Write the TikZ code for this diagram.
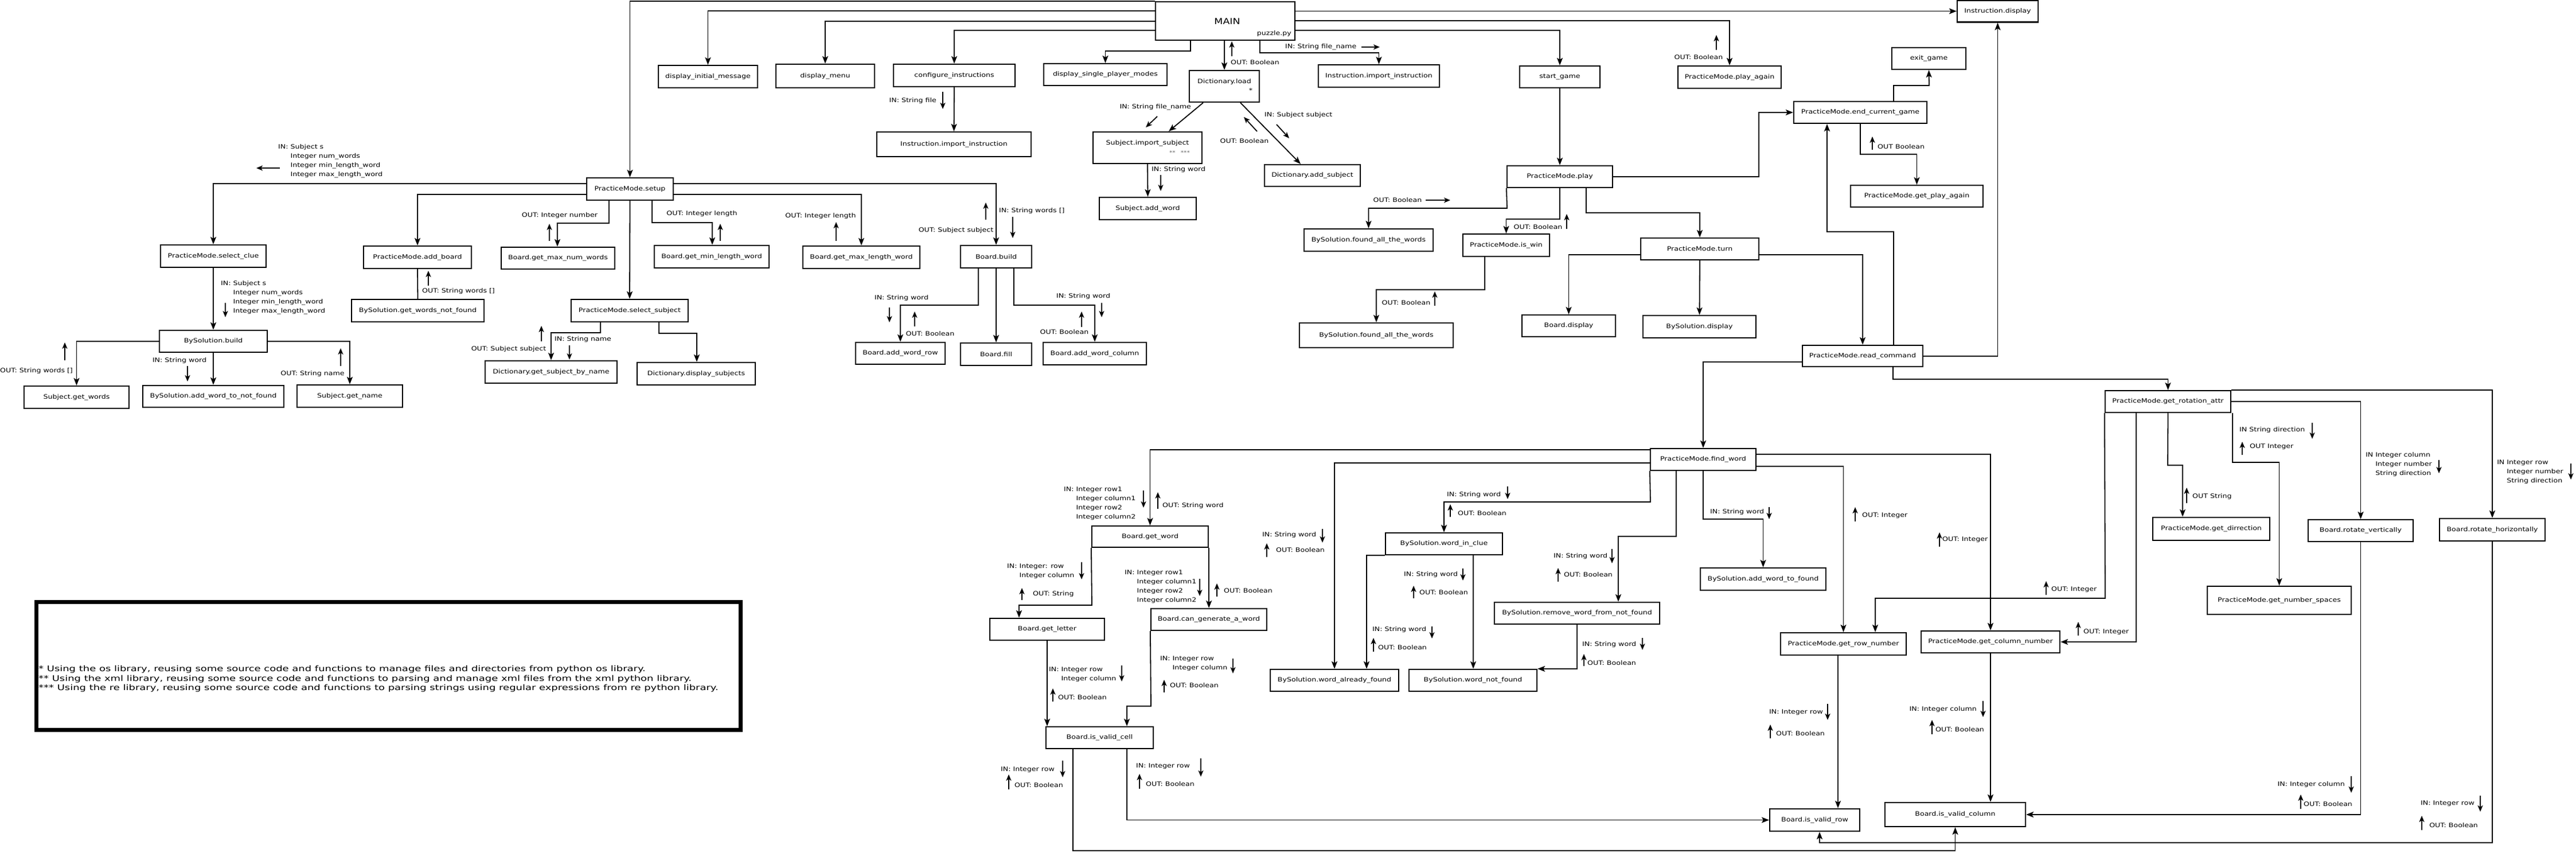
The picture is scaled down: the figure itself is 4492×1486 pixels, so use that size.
\documentclass[tikz,border=0pt]{standalone}
\usepackage{fontspec}
\setmainfont{DejaVu Sans}[FakeStretch=1.2]
\newfontfamily\notefont{DejaVu Sans}[FakeStretch=1.33]
\usetikzlibrary{arrows.meta}

\begin{document}
\begin{tikzpicture}[x=1pt, y=-1pt,
  box/.style={draw, line width=2.2pt, inner sep=0pt, font=\fontsize{10.5}{13}\selectfont},
  sz/.style 2 args={minimum width=#1, minimum height=#2},
  conn/.style={line width=1.8pt, -{Stealth[length=13pt, width=10pt, inset=3pt]}},
  plain/.style={line width=1.8pt},
  tag/.style={inner sep=0pt, align=left, font=\fontsize{10.5}{16}\selectfont},
  sarr/.style={line width=1.8pt, -{Stealth[length=11pt, width=9pt, inset=3pt]}}]

\useasboundingbox (0,0) rectangle (4492,1486);
\fill[white] (0,0) rectangle (4492,1486);

% Top row
\node[box, sz={243}{67}] (main) at (2136.5,36.5) {};
\node[font=\fontsize{14.5}{17}\selectfont] (maintext) at (2140,37) {MAIN};
\node[anchor=east, inner sep=0pt, font=\fontsize{10.5}{13}\selectfont] (mainfile) at (2252,59) {puzzle.py};
\node[box, sz={141}{38}] (instrdisp) at (3483.5,19.5) {Instruction.display};
\node[box, sz={173}{39}] (dispinit) at (1234.5,133.5) {display\_initial\_message};
\node[box, sz={172}{41}] (dispmenu) at (1439,132.5) {display\_menu};
\node[box, sz={212}{39}] (configinstr) at (1664,131.5) {configure\_instructions};
\node[box, sz={269}{43}] (importinstrA) at (1663.5,251.5) {Instruction.import\_instruction};
\node[box, sz={215}{38}] (dispsingle) at (1927.5,130) {display\_single\_player\_modes};
\node[box, sz={122}{55}] (dictload) at (2135,150.5) {};
\node[inner sep=0pt, font=\fontsize{10.5}{13}\selectfont] (dicttext) at (2135,143) {Dictionary.load};
\node[inner sep=0pt, font=\fontsize{10.5}{13}\selectfont] (dictstar) at (2181,158) {*};
\node[box, sz={211}{39}] (importinstrB) at (2404.5,132.5) {Instruction.import\_instruction};
\node[box, sz={140}{38}] (startgame) at (2720,134) {start\_game};
\node[box, sz={180}{39}] (playagain) at (3016,134.5) {PracticeMode.play\_again};
\node[box, sz={129}{38}] (exitgame) at (3363.5,102) {exit\_game};
\node[box, sz={232}{38}] (endgame) at (3244,196) {PracticeMode.end\_current\_game};
\node[box, sz={231}{38}] (getplayagain) at (3342.5,342) {PracticeMode.get\_play\_again};
\node[box, sz={184}{38}] (play) at (2720,308) {PracticeMode.play};
\node[box, sz={190}{55}] (subjimport) at (2001,257.5) {};
\node[inner sep=0pt, font=\fontsize{10.5}{13}\selectfont] (subjtext) at (2001,250) {Subject.import\_subject};
\node[inner sep=0pt, text=black!60, font=\fontsize{9}{11}\selectfont] (subjstars) at (2057,266) {**\quad ***};
\node[box, sz={169}{39}] (subjaddword) at (2001.5,363.5) {Subject.add\_word};
\node[box, sz={167}{38}] (dictaddsubj) at (2288.5,306) {Dictionary.add\_subject};

% Setup branch
\node[box, sz={151}{39}] (setup) at (1098.5,329.5) {PracticeMode.setup};
\node[box, sz={184}{39}] (selectclue) at (372,446.5) {PracticeMode.select\_clue};
\node[box, sz={188}{39}] (addboard) at (728,448.5) {PracticeMode.add\_board};
\node[box, sz={231}{39}] (wordsnotfound) at (728.5,541.5) {BySolution.get\_words\_not\_found};
\node[box, sz={188}{38}] (bsbuild) at (372,595) {BySolution.build};
\node[box, sz={183}{39}] (getwords) at (133.5,692.5) {Subject.get\_words};
\node[box, sz={246}{38}] (addnotfound) at (372,691) {BySolution.add\_word\_to\_not\_found};
\node[box, sz={184}{39}] (getname) at (610,690.5) {Subject.get\_name};
\node[box, sz={198}{38}] (maxnum) at (973,450) {Board.get\_max\_num\_words};
\node[box, sz={200}{39}] (minlen) at (1241,447.5) {Board.get\_min\_length\_word};
\node[box, sz={204}{39}] (maxlen) at (1502,448.5) {Board.get\_max\_length\_word};
\node[box, sz={124}{39}] (bbuild) at (1737,447.5) {Board.build};
\node[box, sz={204}{39}] (selsubj) at (1098,541.5) {PracticeMode.select\_subject};
\node[box, sz={230}{39}] (subjbyname) at (961,648.5) {Dictionary.get\_subject\_by\_name};
\node[box, sz={206}{39}] (dispsubj) at (1214,651.5) {Dictionary.display\_subjects};
\node[box, sz={156}{38}] (addrow) at (1570,616) {Board.add\_word\_row};
\node[box, sz={124}{39}] (fill) at (1737,617.5) {Board.fill};
\node[box, sz={180}{39}] (addcol) at (1909,616.5) {Board.add\_word\_column};

% Play branch
\node[box, sz={225}{39}] (allfoundA) at (2386.5,418.5) {BySolution.found\_all\_the\_words};
\node[box, sz={151}{39}] (iswin) at (2626.5,427.5) {PracticeMode.is\_win};
\node[box, sz={268}{43}] (allfoundB) at (2400,584.5) {BySolution.found\_all\_the\_words};
\node[box, sz={206}{38}] (turn) at (2964,434) {PracticeMode.turn};
\node[box, sz={163}{38}] (bdisplay) at (2735.5,568) {Board.display};
\node[box, sz={197}{39}] (bsdisplay) at (2963.5,569.5) {BySolution.display};
\node[box, sz={210}{37}] (readcmd) at (3248,620.5) {PracticeMode.read\_command};
\node[box, sz={184}{38}] (findword) at (2970,801) {PracticeMode.find\_word};
\node[box, sz={219}{38}] (rotattr) at (3780.5,700) {PracticeMode.get\_rotation\_attr};

% Find word branch
\node[box, sz={203}{37}] (getword) at (2005.5,935.5) {Board.get\_word};
\node[box, sz={200}{38}] (getletter) at (1826,1097) {Board.get\_letter};
\node[box, sz={202}{38}] (cangen) at (2108,1080) {Board.can\_generate\_a\_word};
\node[box, sz={187}{38}] (validcell) at (1917.5,1286) {Board.is\_valid\_cell};
\node[box, sz={204}{38}] (wordinclue) at (2518,948) {BySolution.word\_in\_clue};
\node[box, sz={224}{38}] (alreadyfound) at (2327,1186) {BySolution.word\_already\_found};
\node[box, sz={223}{38}] (notfound) at (2568.5,1186) {BySolution.word\_not\_found};
\node[box, sz={288}{38}] (removeword) at (2750,1069) {BySolution.remove\_word\_from\_not\_found};
\node[box, sz={219}{39}] (addfound) at (3074.5,1009.5) {BySolution.add\_word\_to\_found};
\node[box, sz={219}{39}] (rownum) at (3214.5,1122.5) {PracticeMode.get\_row\_number};
\node[box, sz={242}{38}] (colnum) at (3471,1119) {PracticeMode.get\_column\_number};
\node[box, sz={157}{39}] (validrow) at (3164.5,1429.5) {Board.is\_valid\_row};
\node[box, sz={245}{42}] (validcol) at (3409.5,1420) {Board.is\_valid\_column};
\node[box, sz={204}{40}] (direction) at (3856,922) {PracticeMode.get\_dirrection};
\node[box, sz={251}{49}] (numspaces) at (3974.5,1046.5) {PracticeMode.get\_number\_spaces};
\node[box, sz={183}{38}] (rotvert) at (4116.5,925) {Board.rotate\_vertically};
\node[box, sz={184}{39}] (rothoriz) at (4346,923.5) {Board.rotate\_horizontally};

% Notes
\node[draw, line width=7pt, inner sep=0pt, sz={1228}{223}] (notebox) at (677,1160.5) {};
\node[anchor=west, inner sep=0pt, align=left, font=\notefont\fontsize{13.5}{16.7}\selectfont] (notetext) at (67,1183.5)
  {* Using the os library, reusing some source code and functions to manage files and directories from python os library.\\
   ** Using the xml library, reusing some source code and functions to parsing and manage xml files from the xml python library.\\
   *** Using the re library, reusing some source code and functions to parsing strings using regular expressions from re python library.};

% Connectors from MAIN
\draw[conn] (main.north west) -| (setup.north);
\draw[conn] (main.west |- 0,19) -| (dispinit.north);
\draw[conn] (main.west |- 0,37) -| (dispmenu.north);
\draw[conn] (main.west |- 0,53) -| (configinstr.north);
\draw[conn] (main.east |- instrdisp.west) -- (instrdisp.west);
\draw[conn] (main.east |- 0,36) -| (playagain.north);
\draw[conn] (main.east |- 0,53) -| (startgame.north);
\draw[conn] (main.south -| 2076,0) -- (2076,89) -| (dispsingle.north);
\draw[conn] (main.south -| dictload.north) -- (dictload.north);
\draw[conn] (main.south -| 2197,0) -- (2197,92) -| (importinstrB.north);
\draw[conn] (configinstr.south) -- (importinstrA.north);
\draw[conn] (dictload.south -| 2098,0) -- (subjimport.north -| 2038,0);
\draw[conn] (dictload.south -| 2163,0) -- (dictaddsubj.north -| 2268,0);
\draw[conn] (subjimport.south) -- (subjaddword.north);

% Connectors from setup
\draw[conn] (setup.west |- 0,320) -| (selectclue.north);
\draw[conn] (setup.west |- 0,339) -| (addboard.north);
\draw[conn] (setup.east |- 0,320) -| (bbuild.north);
\draw[conn] (setup.east |- 0,339) -| (maxlen.north);
\draw[conn] (setup.south -| 1062,0) |- (972,389) -- (maxnum.north -| 972,0);
\draw[conn] (setup.south) -- (selsubj.north);
\draw[conn] (setup.south -| 1137,0) |- (1242,388) -- (minlen.north -| 1242,0);
\draw[plain] (addboard.south) -- (wordsnotfound.north);
\draw[conn] (selectclue.south) -- (bsbuild.north);
\draw[conn] (bsbuild.west) -| (getwords.north);
\draw[conn] (bsbuild.south) -- (addnotfound.north);
\draw[conn] (bsbuild.east) -| (getname.north);
\draw[conn] (selsubj.south -| 1047,0) |- (961,580) -- (subjbyname.north);
\draw[conn] (selsubj.south -| 1149,0) |- (1215,581) -- (dispsubj.north -| 1215,0);
\draw[conn] (bbuild.south -| 1706,0) |- (1570,532) -- (addrow.north);
\draw[conn] (bbuild.south) -- (fill.north);
\draw[conn] (bbuild.south -| 1768,0) |- (1909,532) -- (addcol.north);

% Connectors of the game
\draw[conn] (startgame.south) -- (play.north);
\draw[conn] (play.south west) -- (2628,363) -| (allfoundA.north);
\draw[conn] (play.south) -- (2720,382) -| (iswin.north);
\draw[conn] (play.south -| 2766,0) |- (2964,371) -- (turn.north);
\draw[conn] (play.east) -- (3067,308) |- (endgame.west);
\draw[conn] (iswin.south -| 2589,0) |- (2400,505) -- (allfoundB.north);
\draw[conn] (turn.west |- 0,444) -| (bdisplay.north);
\draw[conn] (turn.south) -- (bsdisplay.north);
\draw[conn] (turn.east |- 0,444) -| (readcmd.north);
\draw[conn] (readcmd.east |- 0,621) -| (instrdisp.south);
\draw[conn] (readcmd.north -| 3302,0) |- (3186,404) -- (endgame.south -| 3186,0);
\draw[conn] (endgame.north -| 3302,0) |- (3364,149) -- (exitgame.south);
\draw[conn] (endgame.south) -- (3244,269) -| (getplayagain.north);
\draw[conn] (readcmd.west |- 0,631) -| (findword.north);
\draw[conn] (readcmd.south -| 3301,0) -- (3301,661) -| (rotattr.north);

% Connectors from find_word
\draw[conn] (findword.west |- 0,784) -| (getword.north);
\draw[conn] (findword.west |- 0,807) -| (alreadyfound.north);
\draw[conn] (findword.south west) -- (2878,875) -| (wordinclue.north);
\draw[conn] (findword.south -| 2923,0) |- (2822,935) -- (removeword.north -| 2822,0);
\draw[conn] (findword.south) -- (2970,905) -| (addfound.north);
\draw[conn] (findword.east |- 0,792) -| (colnum.north);
\draw[conn] (findword.east |- 0,813) -| (rownum.north);
\draw[conn] (getword.south west) -- (1904,1055) -| (getletter.north -| 1777,0);
\draw[conn] (getword.south east) -- (getword.south east |- cangen.north);
\draw[conn] (getletter.south) -- (validcell.north -| getletter.south);
\draw[conn] (cangen.south west) -- (2007,1231) -| (validcell.north -| 1965,0);
\draw[conn] (validcell.south -| 1965,0) |- (validrow.west);
\draw[conn] (validcell.south -| 1871,0) -- (1871,1483) -| (validcol.south);
\draw[conn] (wordinclue.south west) -| (alreadyfound.north -| 2383,0);
\draw[conn] (wordinclue.south -| 2569,0) -- (notfound.north -| 2569,0);
\draw[conn] (removeword.south) |- (notfound.north east);

% Connectors from get_rotation_attr
\draw[conn] (rotattr.north east) -| (rothoriz.north);
\draw[conn] (rotattr.east) -| (rotvert.north);
\draw[conn] (rotattr.south west) -- (3671,1043) -| (rownum.north -| 3270,0);
\draw[conn] (rotattr.south -| 3725,0) |- (colnum.east);
\draw[conn] (rotattr.south) -- (3780,811) -| (direction.north -| 3806,0);
\draw[conn] (rotattr.south east -| 3893,0) -- (3893,806) -| (numspaces.north);
\draw[conn] (rownum.south -| 3205,0) -- (validrow.north -| 3205,0);
\draw[conn] (colnum.south) -- (validcol.north -| colnum.south);
\draw[conn] (rotvert.south) |- (validcol.east);
\draw[conn] (rothoriz.south) -- (4346,1469) -| (validrow.south -| 3173,0);

% Labels: top
\node[tag, anchor=west] (tDictOut) at (2146,109) {OUT: Boolean};
\draw[sarr] (2148,98) -- (2148,72);
\node[tag, anchor=west] (tInstrIn) at (2241,82) {IN: String file\_name};
\draw[sarr] (2374,82) -- (2406,82);
\node[tag, anchor=east] (tFileIn) at (1633,176) {IN: String file};
\draw[sarr] (1644,160) -- (1644,190);
\node[tag, anchor=east] (tSubjIn) at (2077,187) {IN: String file\_name};
\draw[sarr] (2018,203) -- (1998,222);
\node[tag, anchor=west] (tAddIn) at (2205,201) {IN: Subject subject};
\draw[sarr] (2226,217) -- (2248,241);
\node[tag] (tAddOut) at (2170,246) {OUT: Boolean};
\draw[sarr] (2192,229) -- (2169,204);
\node[tag, anchor=west] (tWordIn) at (2008,296) {IN: String word};
\draw[sarr] (2024,305) -- (2024,333);
\node[tag] (tAgainOut) at (2962,100) {OUT: Boolean};
\draw[sarr] (2993,87) -- (2993,61);
\node[tag, anchor=west] (tEndOut) at (3274,256) {OUT Boolean};
\draw[sarr] (3265,261) -- (3265,238);
\node[tag] (tFoundOut) at (2437,349) {OUT: Boolean};
\draw[sarr] (2486,349) -- (2529,349);
\node[tag] (tWinOut) at (2682,396) {OUT: Boolean};
\draw[sarr] (2732,399) -- (2732,373);
\node[tag] (tAllOut) at (2452,528) {OUT: Boolean};
\draw[sarr] (2502,533) -- (2502,508);

% Labels: setup
\node[tag, anchor=west] (tClueIn) at (485,281) {IN: Subject s\\\phantom{IN:\ }Integer num\_words\\\phantom{IN:\ }Integer min\_length\_word\\\phantom{IN:\ }Integer max\_length\_word};
\draw[sarr] (488,293) -- (447,293);
\node[tag, anchor=west] (tBoardOut) at (736,508) {OUT: String words []};
\draw[sarr] (747,498) -- (747,472);
\node[tag, anchor=west] (tBuildIn) at (385,519) {IN: Subject s\\\phantom{IN:\ }Integer num\_words\\\phantom{IN:\ }Integer min\_length\_word\\\phantom{IN:\ }Integer max\_length\_word};
\draw[sarr] (393,528) -- (393,553);
\node[tag, anchor=west] (tWordsOut) at (0,647) {OUT: String words []};
\draw[sarr] (113,628) -- (113,597);
\node[tag] (tNotIn) at (313,629) {IN: String word};
\draw[sarr] (327,638) -- (327,665);
\node[tag] (tNameOut) at (545,652) {OUT: String name};
\draw[sarr] (594,638) -- (594,607);
\node[tag] (tNumOut) at (976,376) {OUT: Integer number};
\draw[sarr] (958,420) -- (958,390);
\node[tag] (tMinOut) at (1224,373) {OUT: Integer length};
\draw[sarr] (1256,420) -- (1256,390);
\node[tag] (tMaxOut) at (1431,377) {OUT: Integer length};
\draw[sarr] (1458,420) -- (1458,387);
\node[tag, anchor=west] (tBbuildIn) at (1742,368) {IN: String words []};
\draw[sarr] (1766,378) -- (1766,415);
\node[tag] (tBbuildOut) at (1667,402) {OUT: Subject subject};
\draw[sarr] (1719,383) -- (1719,353);
\node[tag, anchor=west] (tNameIn) at (967,592) {IN: String name};
\draw[sarr] (993,602) -- (993,627);
\node[tag] (tSubjOut) at (887,609) {OUT: Subject subject};
\draw[sarr] (944,595) -- (944,568);
\node[tag] (tRowIn) at (1572,520) {IN: String word};
\draw[sarr] (1551,536) -- (1551,562);
\node[tag] (tRowOut) at (1622,582) {OUT: Boolean};
\draw[sarr] (1595,569) -- (1595,543);
\node[tag] (tColIn) at (1889,517) {IN: String word};
\draw[sarr] (1921,528) -- (1921,553);
\node[tag] (tColOut) at (1856,579) {OUT: Boolean};
\draw[sarr] (1886,570) -- (1886,543);

% Labels: find word
\node[tag, anchor=west] (tGetIn) at (1855,878) {IN: Integer row1\\\phantom{IN:\ }Integer column1\\\phantom{IN:\ }Integer row2\\\phantom{IN:\ }Integer column2};
\draw[sarr] (1994,855) -- (1994,885);
\node[tag, anchor=west] (tGetOut) at (2027,882) {OUT: String word};
\draw[sarr] (2019,887) -- (2019,858);
\node[tag, anchor=west] (tLetterIn) at (1756,996) {IN: Integer: row\\\phantom{IN:\ }Integer column};
\draw[sarr] (1886,980) -- (1886,1010);
\node[tag, anchor=west] (tLetterOut) at (1801,1036) {OUT: String};
\draw[sarr] (1782,1046) -- (1782,1025);
\node[tag, anchor=west] (tGenIn) at (1961,1023) {IN: Integer row1\\\phantom{IN:\ }Integer column1\\\phantom{IN:\ }Integer row2\\\phantom{IN:\ }Integer column2};
\draw[sarr] (2092,1009) -- (2092,1039);
\node[tag, anchor=west] (tGenOut) at (2134,1030) {OUT: Boolean};
\draw[sarr] (2122,1040) -- (2122,1017);
\node[tag, anchor=west] (tCellInA) at (1829,1175.5) {IN: Integer row\\\phantom{IN:\ }Integer column};
\draw[sarr] (1956,1160) -- (1956,1188);
\node[tag, anchor=west] (tCellOutA) at (1845,1216) {OUT: Boolean};
\draw[sarr] (1836,1223) -- (1836,1200);
\node[tag, anchor=west] (tCellInB) at (2023,1157) {IN: Integer row\\\phantom{IN:\ }Integer column};
\draw[sarr] (2150,1148) -- (2150,1174);
\node[tag, anchor=west] (tCellOutB) at (2040,1195) {OUT: Boolean};
\draw[sarr] (2030,1207) -- (2030,1185);
\node[tag, anchor=west] (tValRowIn) at (1745,1342) {IN: Integer row};
\draw[sarr] (1853,1326) -- (1853,1355);
\node[tag, anchor=west] (tValRowOut) at (1769,1369) {OUT: Boolean};
\draw[sarr] (1759,1376) -- (1759,1350);
\node[tag, anchor=west] (tValColIn) at (1981,1336) {IN: Integer row};
\draw[sarr] (2094,1322) -- (2094,1354);
\node[tag, anchor=west] (tValColOut) at (1998,1367) {OUT: Boolean};
\draw[sarr] (1987,1375) -- (1987,1349);
\node[tag, anchor=west] (tAlreadyIn) at (2201,933) {IN: String word};
\draw[sarr] (2306,922) -- (2306,946);
\node[tag, anchor=west] (tAlreadyOut) at (2225,959) {OUT: Boolean};
\draw[sarr] (2209,971) -- (2209,947);
\node[tag, anchor=west] (tClueWIn) at (2523,863) {IN: String word};
\draw[sarr] (2629,848) -- (2629,870);
\node[tag, anchor=west] (tClueWOut) at (2542,895) {OUT: Boolean};
\draw[sarr] (2529,901) -- (2529,879);
\node[tag, anchor=west] (tNotFIn) at (2448,1002) {IN: String word};
\draw[sarr] (2551,991) -- (2551,1012);
\node[tag, anchor=west] (tNotFOut) at (2475,1033) {OUT: Boolean};
\draw[sarr] (2465,1043) -- (2465,1021);
\node[tag, anchor=west] (tAlrFIn) at (2393,1098) {IN: String word};
\draw[sarr] (2497,1092) -- (2497,1113);
\node[tag, anchor=west] (tAlrFOut) at (2403,1129) {OUT: Boolean};
\draw[sarr] (2395,1136) -- (2395,1112);
\node[tag, anchor=west] (tRemIn) at (2709,970) {IN: String word};
\draw[sarr] (2811,957) -- (2811,982);
\node[tag, anchor=west] (tRemOut) at (2727,1002) {OUT: Boolean};
\draw[sarr] (2717,1014) -- (2717,990);
\node[tag, anchor=west] (tAddFIn) at (2982,893) {IN: String word};
\draw[sarr] (3085,884) -- (3085,905);
\node[tag, anchor=west] (tRowNOut) at (3247,899) {OUT: Integer};
\draw[sarr] (3235,909) -- (3235,884);
\node[tag, anchor=west] (tColNOut) at (3387,941) {OUT: Integer};
\draw[sarr] (3382,953) -- (3382,928);
\node[tag, anchor=west] (tRemNIn) at (2759,1124) {IN: String word};
\draw[sarr] (2864,1112) -- (2864,1133);
\node[tag, anchor=west] (tRemNOut) at (2768,1156) {OUT: Boolean};
\draw[sarr] (2762,1161) -- (2762,1140);

% Labels: rotation
\node[tag, anchor=west] (tDirIn) at (3905,750) {IN String direction};
\draw[sarr] (4032,737) -- (4032,765);
\node[tag, anchor=west] (tDirOut) at (3923,779) {OUT Integer};
\draw[sarr] (3910,793) -- (3910,770);
\node[tag, anchor=west] (tStrOut) at (3823,866) {OUT String};
\draw[sarr] (3813,877) -- (3813,850);
\node[tag, anchor=west] (tVertIn) at (4125,810) {IN Integer column\\\phantom{IN }Integer number\\\phantom{IN }String direction};
\draw[sarr] (4253,802) -- (4253,825);
\node[tag, anchor=west] (tHorIn) at (4354,823) {IN Integer row\\\phantom{IN }Integer number\\\phantom{IN }String direction};
\draw[sarr] (4483,808) -- (4483,836);
\node[tag, anchor=west] (tRotRowOut) at (3577,1028) {OUT: Integer};
\draw[sarr] (3568,1037) -- (3568,1013);
\node[tag, anchor=west] (tRotColOut) at (3633,1102) {OUT: Integer};
\draw[sarr] (3624,1108) -- (3624,1084);
\node[tag, anchor=east] (tVRowIn) at (3179,1242) {IN: Integer row};
\draw[sarr] (3187,1227) -- (3187,1255);
\node[tag, anchor=west] (tVRowOut) at (3097,1279) {OUT: Boolean};
\draw[sarr] (3087,1287) -- (3087,1263);
\node[tag, anchor=east] (tVColIn) at (3447,1237) {IN: Integer column};
\draw[sarr] (3458,1222) -- (3458,1250);
\node[tag, anchor=west] (tVColOut) at (3375,1272) {OUT: Boolean};
\draw[sarr] (3369,1280) -- (3369,1255);
\node[tag, anchor=east] (tRvIn) at (4089,1368) {IN: Integer column};
\draw[sarr] (4100,1353) -- (4100,1382);
\node[tag, anchor=west] (tRvOut) at (4017,1402) {OUT: Boolean};
\draw[sarr] (4012,1410) -- (4012,1385);
\node[tag, anchor=east] (tRhIn) at (4315,1401) {IN: Integer row};
\draw[sarr] (4325,1387) -- (4325,1415);
\node[tag, anchor=west] (tRhOut) at (4236,1439) {OUT: Boolean};
\draw[sarr] (4223,1447) -- (4223,1422);
\end{tikzpicture}
\end{document}
